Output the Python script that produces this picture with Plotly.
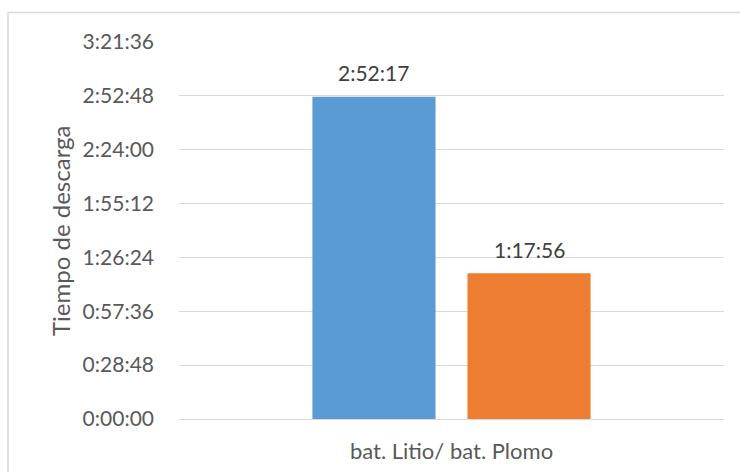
import plotly.graph_objects as go

# Discharge time per battery type, in seconds
category = ["bat. Litio/ bat. Plomo"]
series_names = ["bat. Litio", "bat. Plomo"]
discharge_seconds = [10337, 4676]  # 2:52:17 and 1:17:56
bar_colors = ["#5B9BD5", "#ED7D31"]

tick_step = 1728  # 0:28:48
tick_count = 8


def hms(sec):
    h, rem = divmod(int(sec), 3600)
    m, s = divmod(rem, 60)
    return f"{h}:{m:02d}:{s:02d}"


tick_vals = [i * tick_step for i in range(tick_count)]
tick_text = [hms(v) for v in tick_vals]

FONT = "Lato, 'Open Sans', sans-serif"

fig = go.Figure()
for name, val, col in zip(series_names, discharge_seconds, bar_colors):
    fig.add_trace(go.Bar(
        x=category, y=[val], name=name,
        marker=dict(color=col, line=dict(width=0)),
    ))

W, H = 740, 472
ml, mr, mt, mb = 179, 16, 42, 53
pw, ph = W - ml - mr, H - mt - mb

# value labels above each bar, offset per bar slot
slot_offsets = [-0.5, 0.5]
value_labels = [
    dict(text=hms(val), xref="x", yref="y", x=off * 0.2845, y=val,
         xanchor="center", yanchor="middle", yshift=24, showarrow=False,
         font=dict(family=FONT, size=21, color="#404040"))
    for val, off in zip(discharge_seconds, slot_offsets)
]

fig.update_layout(
    width=W, height=H,
    margin=dict(l=ml, r=mr, t=mt, b=mb),
    paper_bgcolor="white", plot_bgcolor="white",
    showlegend=False,
    barmode="group", bargap=0.431, bargroupgap=0.206,
    font=dict(family=FONT, size=20, color="#595959"),
    xaxis=dict(showgrid=False, showline=False, ticks="", ticklabelstandoff=17,
               automargin=False,
               tickfont=dict(size=22, color="#595959")),
    yaxis=dict(range=[0, tick_vals[-1]], tickvals=tick_vals, ticktext=tick_text,
               showgrid=True, gridcolor="#D9D9D9", gridwidth=1,
               zeroline=True, zerolinecolor="#D9D9D9", zerolinewidth=1,
               showline=False, ticks="", ticklabelstandoff=24, automargin=False,
               tickfont=dict(size=21, color="#595959")),
    shapes=[dict(type="rect", xref="paper", yref="paper",
                 x0=(8 - ml) / pw, x1=(W + 5 - ml) / pw,
                 y0=-(H + 5 - mt - ph) / ph, y1=(H - 12.5 - mb) / ph,
                 line=dict(color="#D9D9D9", width=1.5), fillcolor="rgba(0,0,0,0)",
                 layer="below")],
    annotations=value_labels + [
        dict(text="Tiempo de descarga", textangle=-90,
             xref="paper", yref="paper",
             x=(60 - ml) / pw, y=(H - 231 - mb) / ph,
             xanchor="center", yanchor="middle", showarrow=False,
             font=dict(family=FONT, size=24, color="#595959"))],
)

fig.write_html("out.html")
